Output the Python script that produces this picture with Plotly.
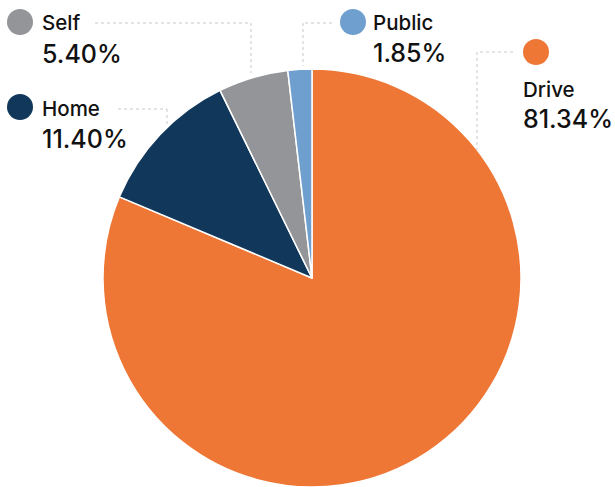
import plotly.graph_objects as go

# ---- data ----
categories = ["Drive", "Home", "Self", "Public"]
shares = [81.34, 11.40, 5.40, 1.85]
share_labels = ["81.34%", "11.40%", "5.40%", "1.85%"]
colors = ["#EE7736", "#11385A", "#939598", "#6F9FCF"]

W, H = 615, 487

def px(x):
    return x / W

def py(y):
    return 1 - y / H

fig = go.Figure()
fig.add_trace(go.Pie(
    labels=categories, values=shares, sort=False, direction="clockwise",
    rotation=0, textinfo="none", hoverinfo="label+percent",
    marker=dict(colors=colors, line=dict(color="white", width=1.5)),
    domain=dict(x=[px(103), px(521)], y=[0, py(69)]),
    showlegend=False,
))

# label layout (positions in pixels): circle centre, label pos, percent pos, leader path
label_layout = {
    "Self":   dict(dot=(20, 22), name=(43, 23), pct=(43, 54),
                   leader=[(95, 23), (251, 23), (251, 73)]),
    "Home":   dict(dot=(20, 107), name=(43, 109), pct=(43, 139),
                   leader=[(118, 109), (167, 109), (167, 124)]),
    "Public": dict(dot=(353, 22), name=(374, 23), pct=(374, 53),
                   leader=[(332, 23), (303, 23), (303, 66)]),
    "Drive":  dict(dot=(536, 52), name=(524, 89), pct=(524, 119),
                   leader=[(513, 52), (477, 52), (477, 150)]),
}

shapes = []
annotations = []
R = 13
FONT = "Inter"
for cat, lab, col in zip(categories, share_labels, colors):
    L = label_layout[cat]
    cx, cy = L["dot"]
    shapes.append(dict(type="circle", xref="paper", yref="paper",
                       x0=px(cx - R), x1=px(cx + R), y0=py(cy + R), y1=py(cy - R),
                       fillcolor=col, line=dict(width=0)))
    pts = L["leader"]
    for (x0, y0), (x1, y1) in zip(pts[:-1], pts[1:]):
        shapes.append(dict(type="line", xref="paper", yref="paper",
                           x0=px(x0), y0=py(y0), x1=px(x1), y1=py(y1),
                           line=dict(color="#C9C9C9", width=1, dash="dot")))
    annotations.append(dict(text=cat, xref="paper", yref="paper",
                            x=px(L["name"][0]), y=py(L["name"][1]), xshift=-3,
                            xanchor="left", yanchor="middle", showarrow=False,
                            font=dict(family=FONT, size=20.5, color="#111111", weight=500)))
    annotations.append(dict(text=lab, xref="paper", yref="paper",
                            x=px(L["pct"][0]), y=py(L["pct"][1]), xshift=-3,
                            xanchor="left", yanchor="middle", showarrow=False,
                            font=dict(family=FONT, size=25, color="#111111", weight=500)))

fig.update_layout(
    width=W, height=H, margin=dict(l=0, r=0, t=0, b=0),
    paper_bgcolor="white", plot_bgcolor="white",
    shapes=shapes, annotations=annotations,
)

fig.write_html("out.html", config={"displayModeBar": False},
               post_script="document.body.style.margin='0';")
